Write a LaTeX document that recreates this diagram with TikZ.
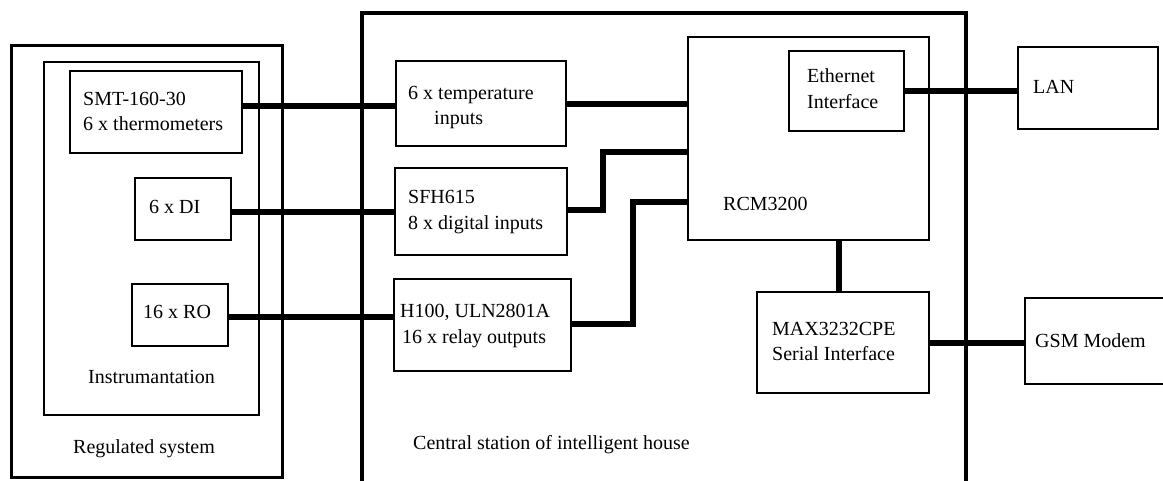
\documentclass[tikz,border=0pt]{standalone}
\usepackage{fontspec}
\setmainfont{Liberation Serif}
\newfontfamily\diagfont{Liberation Serif}
\begin{document}
\begin{tikzpicture}[x=1pt,y=-1pt,
  box/.style={draw,line width=1.3pt,inner sep=0pt,rectangle},
  conn/.style={line width=6pt},
  lbl/.style={anchor=base west,inner sep=0pt,font=\diagfont\fontsize{20}{25}\selectfont}]
\useasboundingbox (0,0) rectangle (1163,480);
\clip (0,0) rectangle (1163,480);
% Regulated system
\node[box,line width=3pt,minimum width=271pt,minimum height=432pt] (reg) at (146.5,261) {};
\node[box,line width=1.5pt,minimum width=215pt,minimum height=353pt] (inst) at (151.5,238.5) {};
\node[box,minimum width=172pt,minimum height=82pt] (smt) at (156,112) {};
\node[box,minimum width=96pt,minimum height=62pt] (di) at (183,209) {};
\node[box,minimum width=96pt,minimum height=62pt] (ro) at (180,315) {};
\node[lbl] (tsmt1) at (83,105) {SMT-160-30};
\node[lbl] (tsmt2) at (83,130) {6 x thermometers};
\node[lbl] (tdi) at (149,213) {6 x DI};
\node[lbl] (tro) at (143,318) {16 x RO};
\node[lbl] (tinst) at (88,383) {Instrumantation};
\node[lbl] (treg) at (73,453) {Regulated system};
% Central station
\node[box,line width=4pt,minimum width=604pt,minimum height=487pt] (cent) at (664,256.5) {};
\node[box,minimum width=170pt,minimum height=85pt] (tin) at (481,103.5) {};
\node[box,minimum width=172pt,minimum height=87pt] (sfh) at (481,211.5) {};
\node[box,minimum width=177pt,minimum height=92pt] (h100) at (482.5,325) {};
\node[box,line width=2.6pt,minimum width=241pt,minimum height=203pt] (rcm) at (808.5,138.5) {};
\node[box,minimum width=115pt,minimum height=80pt] (eth) at (846.5,91) {};
\node[box,minimum width=172pt,minimum height=101pt] (max) at (843,342.5) {};
\node[lbl] (ttin1) at (408,99) {6 x temperature};
\node[lbl] (ttin2) at (434,124) {inputs};
\node[lbl] (tsfh1) at (408,203) {SFH615};
\node[lbl] (tsfh2) at (408,229) {8 x digital inputs};
\node[lbl] (th1) at (400,317) {H100, ULN2801A};
\node[lbl] (th2) at (402,343) {16 x relay outputs};
\node[lbl] (tcent) at (413,449) {Central station of intelligent house};
\node[lbl] (teth1) at (807,82) {Ethernet};
\node[lbl] (teth2) at (807,108) {Interface};
\node[lbl] (trcm) at (723,210) {RCM3200};
\node[lbl] (tmax1) at (772,335) {MAX3232CPE};
\node[lbl] (tmax2) at (772,360) {Serial Interface};
% External
\node[box,minimum width=140pt,minimum height=82pt] (lan) at (1088,88) {};
\node[box,minimum width=150pt,minimum height=86pt] (gsm) at (1100,341) {};
\node[lbl] (tlan) at (1033,93) {LAN};
\node[lbl] (tgsm) at (1035,347) {GSM Modem};
% Connectors
\draw[conn] (smt.east |- 0,106) -- (tin.west |- 0,106);
\draw[conn] (tin.east |- 0,104) -- (rcm.west |- 0,104);
\draw[conn] (di.east |- 0,212) -- (sfh.west |- 0,212);
\draw[conn] (sfh.east |- 0,210) -| (603,152) -- (rcm.west |- 0,152);
\draw[conn] (ro.east |- 0,317) -- (h100.west |- 0,317);
\draw[conn] (h100.east |- 0,324) -| (633,202) -- (rcm.west |- 0,202);
\draw[conn] (eth.east |- 0,91) -- (lan.west |- 0,91);
\draw[conn] (rcm.south -| 839,0) -- (max.north -| 839,0);
\draw[conn] (max.east |- 0,343) -- (gsm.west |- 0,343);
\end{tikzpicture}
\end{document}
